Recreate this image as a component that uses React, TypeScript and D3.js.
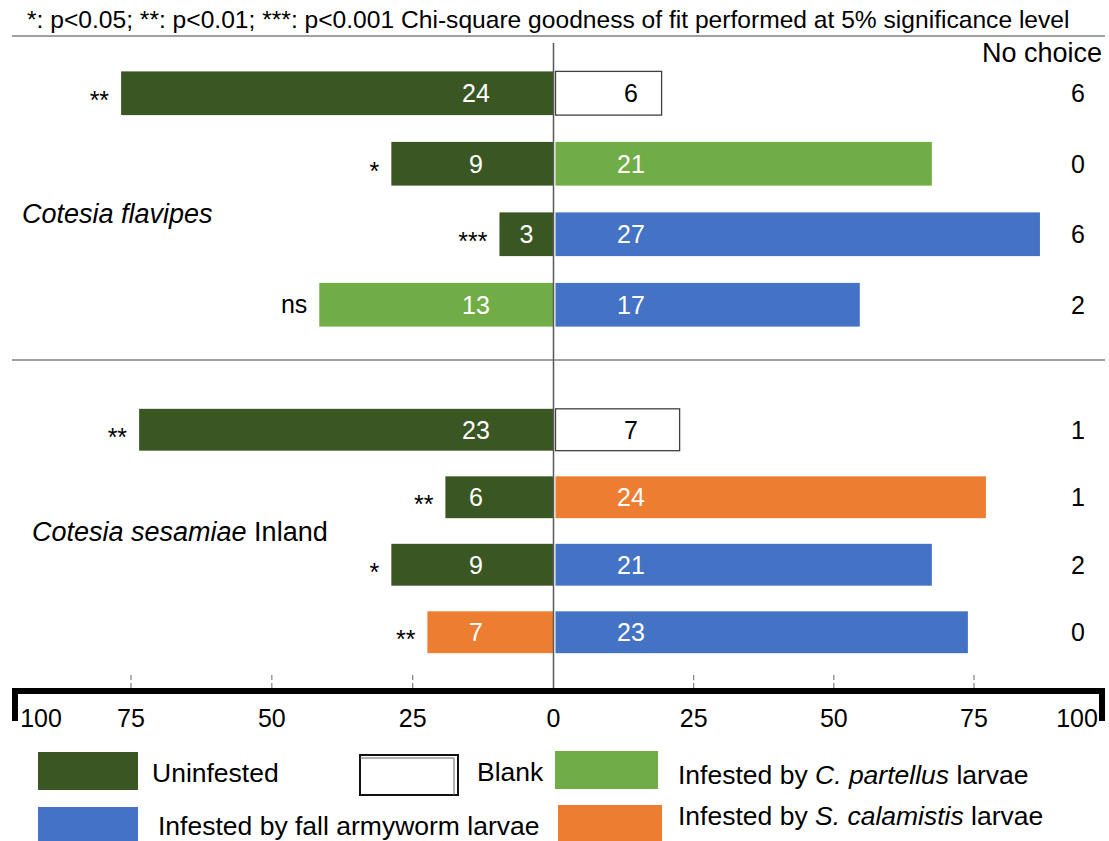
import React from "react";
import * as d3 from "d3";

// ---------- data ----------
const groupNames = ["Cotesia flavipes", "Cotesia sesamiae Inland"];
const rowGroup = [0, 0, 0, 0, 1, 1, 1, 1];
const leftCategory = ["Uninfested", "Uninfested", "Uninfested", "C. partellus", "Uninfested", "Uninfested", "Uninfested", "S. calamistis"];
const leftValues = [24, 9, 3, 13, 23, 6, 9, 7];
const rightCategory = ["Blank", "C. partellus", "Fall armyworm", "Fall armyworm", "Blank", "S. calamistis", "Fall armyworm", "Fall armyworm"];
const rightValues = [6, 21, 27, 17, 7, 24, 21, 23];
const significance = ["**", "*", "***", "ns", "**", "**", "*", "**"];
const noChoice = [6, 0, 6, 2, 1, 1, 2, 0];
const axisTicks = [-100, -75, -50, -25, 0, 25, 50, 75, 100];
const headerText = "*: p<0.05; **: p<0.01; ***: p<0.001 Chi-square goodness of fit performed at 5% significance level";

const categoryColor: Record<string, string> = {
  "Uninfested": "#3a5623",
  "Blank": "#ffffff",
  "C. partellus": "#70ad47",
  "Fall armyworm": "#4472c4",
  "S. calamistis": "#ed7d31",
};

const FONT = "'Liberation Sans', Arial, sans-serif";

export default function App() {
  const W = 1109, H = 841;
  const x = d3.scaleLinear().domain([-30, 30]).range([13, 1094]);
  const axisX = d3.scaleLinear().domain([-100, -75, 0, 75, 100]).range([41, 131, 553.5, 974, 1077]);
  const yBands = [
    d3.scaleBand<number>().domain([0, 1, 2, 3]).range([58, 340]).paddingInner(0.38).paddingOuter(0.19),
    d3.scaleBand<number>().domain([4, 5, 6, 7]).range([396, 666]).paddingInner(0.38).paddingOuter(0.19),
  ];
  const x0 = x(0);
  const labelOffset = 4.3;

  const rows = leftValues.map((lv, i) => {
    const yb = yBands[rowGroup[i]];
    const top = yb(i) as number;
    const bh = yb.bandwidth();
    return { i, top, bh, cy: top + bh / 2, lv, rv: rightValues[i] };
  });

  const legend = [
    { key: "Uninfested", sx: 38, sy: 752, sw: 100, sh: 38, tx: 152, ty: 782, parts: [["Uninfested", false]] },
    { key: "Blank", sx: 360, sy: 755, sw: 98, sh: 40, tx: 477, ty: 781, parts: [["Blank", false]] },
    { key: "C. partellus", sx: 555, sy: 751, sw: 103, sh: 38, tx: 678, ty: 784, parts: [["Infested by ", false], ["C. partellus", true], [" larvae", false]] },
    { key: "Fall armyworm", sx: 38, sy: 807, sw: 100, sh: 40, tx: 158, ty: 835, parts: [["Infested by fall armyworm larvae", false]] },
    { key: "S. calamistis", sx: 558, sy: 805, sw: 104, sh: 40, tx: 678, ty: 825, parts: [["Infested by ", false], ["S. calamistis", true], [" larvae", false]] },
  ] as const;

  return (
    <svg width={W} height={H} style={{ position: "absolute", left: 0, top: 0, display: "block", background: "#fff" }} fontFamily={FONT}>
      {/* header */}
      <text x={27} y={28} fontSize={24.6} fill="#000">{headerText}</text>
      <line x1={12} x2={1105} y1={36} y2={36} stroke="#808080" strokeWidth={1.5} />
      <line x1={12} x2={1105} y1={360} y2={360} stroke="#808080" strokeWidth={1.5} />

      <text x={1102} y={62} fontSize={27} textAnchor="end" fill="#000">No choice</text>

      {/* group labels */}
      <text x={22} y={223} fontSize={27} fontStyle="italic" fill="#000">{groupNames[0]}</text>
      <text x={32} y={541} fontSize={27} fill="#000">
        <tspan fontStyle="italic">Cotesia sesamiae</tspan> Inland
      </text>

      {/* bars */}
      {rows.map((r) => {
        const lc = leftCategory[r.i];
        const rc = rightCategory[r.i];
        const lx = x(-r.lv);
        const rx = x(r.rv);
        const lLabelX = r.lv >= 5 ? x(-labelOffset) : (lx + x0) / 2;
        const rLabelX = r.rv >= 5 ? x(labelOffset) : (rx + x0) / 2;
        const sig = significance[r.i];
        const isStar = sig.includes("*");
        return (
          <g key={r.i}>
            <rect x={lx} y={r.top} width={x0 - lx} height={r.bh} fill={categoryColor[lc]}
              stroke={lc === "Blank" ? "#404040" : "none"} strokeWidth={1.3} />
            <rect x={x0 + 2} y={r.top} width={rx - x0 - 2} height={r.bh} fill={categoryColor[rc]}
              stroke={rc === "Blank" ? "#404040" : "none"} strokeWidth={1.3} />
            <text x={lLabelX} y={r.cy + 9} fontSize={25} textAnchor="middle" fill={lc === "Blank" ? "#000" : "#fff"}>{r.lv}</text>
            <text x={rLabelX} y={r.cy + 9} fontSize={25} textAnchor="middle" fill={rc === "Blank" ? "#000" : "#fff"}>{r.rv}</text>
            <text x={lx - 12} y={r.cy + (isStar ? 16 : 8)} fontSize={isStar ? 25 : 25} textAnchor="end" fill="#000">{sig}</text>
            <text x={1078} y={r.cy + 9} fontSize={25} textAnchor="middle" fill="#000">{noChoice[r.i]}</text>
          </g>
        );
      })}

      {/* center line */}
      <line x1={x0} x2={x0} y1={43} y2={691} stroke="#595959" strokeWidth={1.5} />

      {/* axis */}
      {axisTicks.filter((t) => t !== 0 && Math.abs(t) !== 100).map((t) => (
        <line key={"tk" + t} x1={axisX(t)} x2={axisX(t)} y1={675} y2={689} stroke="#808080" strokeWidth={1.2} strokeDasharray="5,3" />
      ))}
      <path d={`M15,721 V691 H1102 V721`} fill="none" stroke="#000" strokeWidth={6} strokeLinejoin="miter" />
      {axisTicks.map((t) => (
        <text key={"tl" + t} x={axisX(t)} y={727} fontSize={25} textAnchor="middle" fill="#000">{Math.abs(t)}</text>
      ))}

      {/* legend */}
      {legend.map((l) => (
        <g key={l.key}>
          {l.key === "Blank" ? (
            <g>
              <rect x={l.sx} y={l.sy} width={l.sw} height={l.sh} fill="#fff" stroke="#111" strokeWidth={2} />
              <polyline points={`${l.sx},${l.sy + 3} ${l.sx + l.sw - 4},${l.sy + 3} ${l.sx + l.sw - 4},${l.sy + l.sh}`} fill="none" stroke="#666" strokeWidth={1} />
            </g>
          ) : (
            <rect x={l.sx} y={l.sy} width={l.sw} height={l.sh} fill={categoryColor[l.key]} />
          )}
          <text x={l.tx} y={l.ty} fontSize={26.5} fill="#000">
            {l.parts.map((p, j) => (
              <tspan key={j} fontStyle={p[1] ? "italic" : "normal"}>{p[0]}</tspan>
            ))}
          </text>
        </g>
      ))}
    </svg>
  );
}
